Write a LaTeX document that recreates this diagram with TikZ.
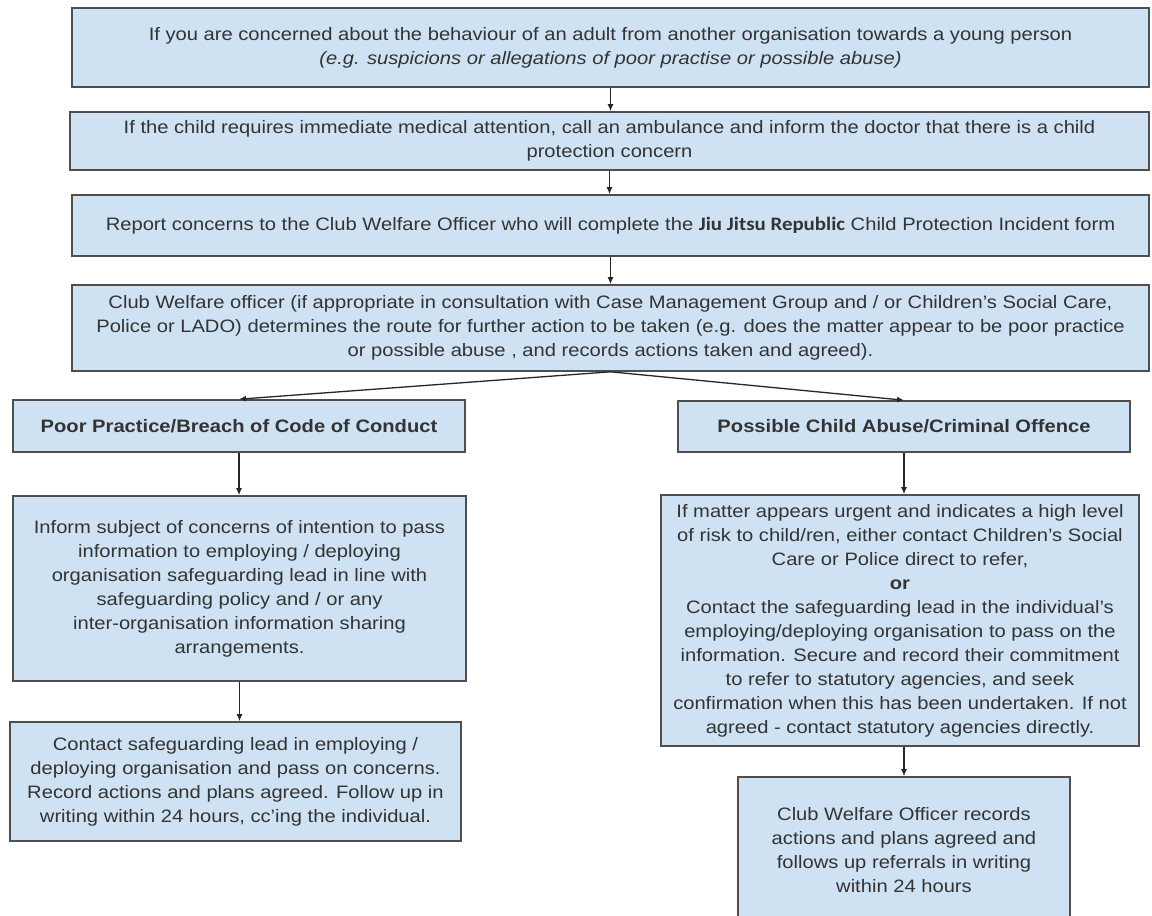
\documentclass[tikz,border=0pt]{standalone}
\usepackage{fontspec}
\setmainfont{Liberation Sans}[FakeStretch=1.12]
\newfontfamily\jjfont{Carlito}[FakeStretch=1.1]
\usetikzlibrary{arrows.meta}
\definecolor{boxfill}{HTML}{CFE2F3}
\definecolor{boxline}{HTML}{4F4F4F}
\definecolor{txt}{HTML}{333333}
\begin{document}
\begin{tikzpicture}[x=1pt,y=-1pt,
  box/.style={draw=boxline, line width=1.6pt, fill=boxfill, inner sep=0pt, align=center, text=txt, font=\fontsize{18}{24}\selectfont},
  arr/.style={-{Latex[length=7pt,width=6pt]}, line width=1.3pt, draw=black!85}]
\fill[white] (0,0) rectangle (1152,916);
\clip (0,0) rectangle (1152,916);
\node[box, minimum width=1077pt, minimum height=79pt] (b1) at (610.5,47.5)
  {If you are concerned about the behaviour of an adult from another organisation towards a young person\\
   \itshape (e.g. suspicions or allegations of poor practise or possible abuse)};
\node[box, minimum width=1079pt, minimum height=58pt] (b2) at (609.5,141)
  {If the child requires immediate medical attention, call an ambulance and inform the doctor that there is a child\\protection concern};
\node[box, minimum width=1077pt, minimum height=61pt] (b3) at (610.5,225.5)
  {Report concerns to the Club Welfare Officer who will complete the {\jjfont\bfseries\fontsize{19}{24}\selectfont Jiu Jitsu Republic} Child Protection Incident form};
\node[box, minimum width=1077pt, minimum height=86pt] (b4) at (610.5,328)
  {Club Welfare officer (if appropriate in consultation with Case Management Group and / or Children’s Social Care,\\
   Police or LADO) determines the route for further action to be taken (e.g. does the matter appear to be poor practice\\
   or possible abuse , and records actions taken and agreed).};
\node[box, minimum width=452pt, minimum height=52pt, font=\fontsize{18}{24}\selectfont\bfseries] (poor) at (239,426)
  {Poor Practice/Breach of Code of Conduct};
\node[box, minimum width=453pt, minimum height=185pt] (inform) at (239.5,588.5)
  {Inform subject of concerns of intention to pass\\information to employing / deploying\\organisation safeguarding lead in line with\\safeguarding policy and / or any\\inter-organisation information sharing\\arrangements.};
\node[box, minimum width=451pt, minimum height=119pt] (contact) at (235.5,781.5)
  {Contact safeguarding lead in employing /\\deploying organisation and pass on concerns.\\Record actions and plans agreed. Follow up in\\writing within 24 hours, cc’ing the individual.};
\node[box, minimum width=452pt, minimum height=51pt, font=\fontsize{18}{24}\selectfont\bfseries] (poss) at (904,426.5)
  {Possible Child Abuse/Criminal Offence};
\node[box, minimum width=478pt, minimum height=251pt] (ifm) at (900,620.5)
  {If matter appears urgent and indicates a high level\\of risk to child/ren, either contact Children’s Social\\Care or Police direct to refer,\\\textbf{or}\\Contact the safeguarding lead in the individual’s\\employing/deploying organisation to pass on the\\information. Secure and record their commitment\\to refer to statutory agencies, and seek\\confirmation when this has been undertaken. If not\\agreed - contact statutory agencies directly.};
\node[box, minimum width=332pt, minimum height=146pt] (last) at (904,850)
  {Club Welfare Officer records\\actions and plans agreed and\\follows up referrals in writing\\within 24 hours};
\draw[arr] (b1.south) -- (b1.south |- b2.north);
\draw[arr] (b2.south) -- (b2.south |- b3.north);
\draw[arr] (b3.south) -- (b3.south |- b4.north);
\draw[arr] (b4.south) -- (poor.north);
\draw[arr] (b4.south) -- (poss.north);
\draw[arr] (poor.south) -- (poor.south |- inform.north);
\draw[arr] (inform.south) -- (inform.south |- contact.north);
\draw[arr] (poss.south) -- (poss.south |- ifm.north);
\draw[arr] (last.north |- ifm.south) -- (last.north);
\end{tikzpicture}
\end{document}
